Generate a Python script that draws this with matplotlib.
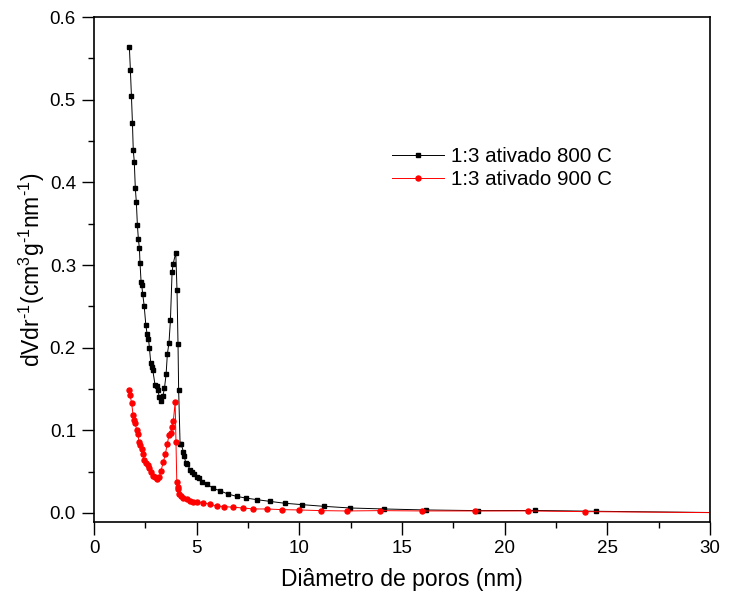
""" Distribuição de tamanho de poros """

import matplotlib
matplotlib.use('Agg')
import matplotlib.pyplot as plt
from matplotlib.ticker import MultipleLocator, FormatStrFormatter

# Dados
diam_800 = [1.72, 1.77, 1.82, 1.87, 1.91, 1.96, 2.01, 2.06, 2.11, 2.16, 2.21, 2.24,
            2.29, 2.32, 2.37, 2.44, 2.52, 2.58, 2.65, 2.70, 2.76, 2.81, 2.86, 2.97,
            3.05, 3.12, 3.17, 3.25, 3.35, 3.43, 3.51, 3.57, 3.65, 3.72, 3.80, 3.85,
            3.98, 4.04, 4.09, 4.12, 4.19, 4.25, 4.35, 4.38, 4.48, 4.55, 4.68, 4.77,
            4.89, 5.00, 5.10, 5.28, 5.49, 5.79, 6.12, 6.51, 6.95, 7.40, 7.95, 8.56,
            9.29, 10.15, 11.19, 12.47, 14.13, 16.17, 18.72, 21.48, 24.45, 32.0]
dv_800 = [0.564, 0.536, 0.505, 0.472, 0.439, 0.425, 0.393, 0.376, 0.349, 0.331, 0.320, 0.302,
          0.280, 0.276, 0.265, 0.251, 0.228, 0.217, 0.211, 0.199, 0.182, 0.177, 0.173, 0.155,
          0.153, 0.149, 0.140, 0.136, 0.141, 0.151, 0.168, 0.192, 0.206, 0.233, 0.291, 0.301,
          0.315, 0.270, 0.204, 0.149, 0.084, 0.083, 0.074, 0.069, 0.060, 0.059, 0.052, 0.050,
          0.047, 0.044, 0.042, 0.038, 0.035, 0.030, 0.027, 0.023, 0.020, 0.018, 0.016, 0.014,
          0.0117, 0.010, 0.008, 0.006, 0.0048, 0.0036, 0.0028, 0.003, 0.002, 0.0]

diam_900 = [1.70, 1.75, 1.83, 1.90, 1.96, 2.00, 2.08, 2.13, 2.19, 2.24, 2.32, 2.37,
            2.45, 2.53, 2.61, 2.69, 2.78, 2.89, 2.99, 3.08, 3.18, 3.26, 3.38, 3.47,
            3.57, 3.65, 3.74, 3.80, 3.86, 3.95, 3.99, 4.03, 4.08, 4.11, 4.15, 4.22,
            4.35, 4.51, 4.68, 4.84, 5.00, 5.29, 5.65, 5.97, 6.35, 6.79, 7.24, 7.76,
            8.41, 9.14, 10.0, 11.04, 12.31, 13.95, 15.96, 18.56, 21.15, 23.92, 32.0]
dv_900 = [0.149, 0.143, 0.133, 0.119, 0.113, 0.109, 0.100, 0.096, 0.086, 0.082, 0.077, 0.071,
          0.064, 0.061, 0.058, 0.054, 0.050, 0.045, 0.043, 0.041, 0.043, 0.051, 0.062, 0.071,
          0.084, 0.094, 0.097, 0.104, 0.111, 0.134, 0.086, 0.038, 0.031, 0.029, 0.023, 0.020,
          0.018, 0.0166, 0.015, 0.0137, 0.0133, 0.0125, 0.0105, 0.0085, 0.0076, 0.0069, 0.006, 0.0048,
          0.0048, 0.004, 0.0036, 0.0028, 0.0024, 0.0028, 0.0024, 0.0024, 0.0024, 0.0016, 0.0]

labels = ['1:3 ativado 800 C', '1:3 ativado 900 C']

plt.rcParams['font.family'] = ['Liberation Sans', 'DejaVu Sans']
plt.rcParams['mathtext.default'] = 'regular'

fig = plt.figure(figsize=(7.29, 5.99), dpi=100)
ax = fig.add_axes([0.129, 0.1285, 0.845, 0.843])

ax.plot(diam_800, dv_800, color='black', lw=0.7, marker='s', ms=2.8,
        mec='black', mfc='black', label=labels[0])
ax.plot(diam_900, dv_900, color='red', lw=0.7, marker='o', ms=3.6,
        mec='red', mfc='red', label=labels[1])

ax.set_xlim(0, 30)
ax.set_ylim(-0.011, 0.6)
ax.xaxis.set_major_locator(MultipleLocator(5))
ax.xaxis.set_minor_locator(MultipleLocator(2.5))
ax.yaxis.set_major_locator(MultipleLocator(0.1))
ax.yaxis.set_minor_locator(MultipleLocator(0.05))
ax.yaxis.set_major_formatter(FormatStrFormatter('%.1f'))
ax.tick_params(which='major', direction='out', length=9, width=1.0,
               labelsize=13.5, pad=4)
ax.tick_params(which='minor', direction='out', length=4.5, width=1.0)
for spine in ax.spines.values():
    spine.set_linewidth(1.2)

ax.set_xlabel('Diâmetro de poros (nm)', fontsize=16.5, labelpad=8)
# hífen curto (U+2010) nos expoentes, como no original
ax.set_ylabel('dVdr$^{\u20101}$(cm$^{3}$g$^{\u20101}$nm$^{\u20101}$)',
              fontsize=16.5, labelpad=2)

ax.legend(loc='upper left', bbox_to_anchor=(0.483, 0.743), frameon=False,
          fontsize=14.8, borderpad=0, borderaxespad=0, handlelength=2.55,
          handletextpad=0.35, labelspacing=0.2)

fig.savefig('out.png', dpi=100)
